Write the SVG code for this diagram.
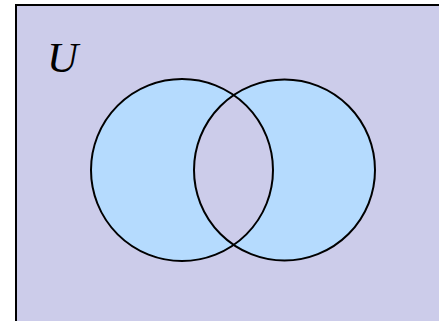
<svg xmlns="http://www.w3.org/2000/svg" width="439" height="321" viewBox="0 0 439 321">
<style>
.set{fill:#b5dbfe;stroke:none}
.outline{fill:none;stroke:#000;stroke-width:2}
</style>
<defs>
<clipPath id="clipA"><circle cx="182" cy="170" r="91"/></clipPath>
</defs>
<g id="universe">
<rect x="16" y="5" width="440" height="330" fill="#ccccea" stroke="#000" stroke-width="2"/>
<text x="47" y="72" font-family="'Liberation Serif', serif" font-style="italic" font-size="43" fill="#000">U</text>
</g>
<g id="setA">
<circle class="set" cx="182" cy="170" r="91"/>
</g>
<g id="setB">
<circle class="set" cx="284.5" cy="170" r="90.5"/>
</g>
<g id="intersection">
<circle cx="284.5" cy="170" r="90.5" fill="#ccccea" clip-path="url(#clipA)"/>
</g>
<g id="outlines">
<circle class="outline" cx="182" cy="170" r="91"/>
<circle class="outline" cx="284.5" cy="170" r="90.5"/>
</g>
</svg>
